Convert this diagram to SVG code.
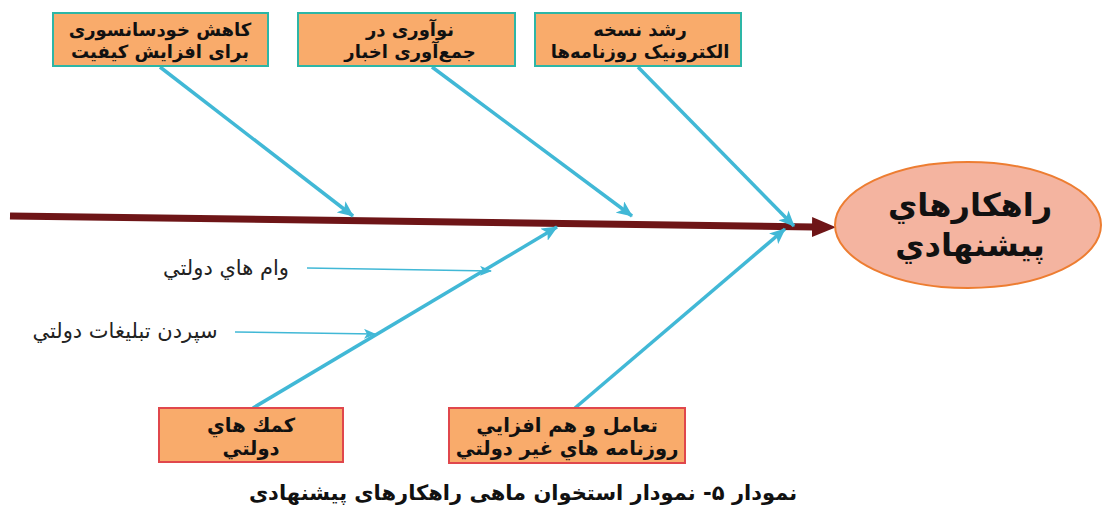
<svg xmlns="http://www.w3.org/2000/svg" width="1104" height="513" viewBox="0 0 1104 513">
<style>
.box{fill:#F9AB6B;stroke-width:2}
.top{stroke:#2DB6A6}
.bot{stroke:#E0474C}
.bt{font-family:"DejaVu Sans",sans-serif;font-weight:bold;font-size:18px;fill:#111;text-anchor:middle}
.bt2{font-family:"DejaVu Sans",sans-serif;font-weight:bold;font-size:19.5px;fill:#111;text-anchor:middle}
.lbl{font-family:"DejaVu Sans",sans-serif;font-size:21px;fill:#222;text-anchor:middle}
.bone{stroke:#41B8D6;stroke-width:3.5;fill:none}
.thin{stroke:#41B8D6;stroke-width:1.5;fill:none}
</style>
<defs>
<marker id="ah" markerUnits="userSpaceOnUse" markerWidth="16" markerHeight="14" viewBox="0 0 16 14" refX="15" refY="7" orient="auto">
<path d="M0,0 L16,7 L0,14 L4,7 Z" fill="#41B8D6"/>
</marker>
<marker id="ahs" markerUnits="userSpaceOnUse" markerWidth="12" markerHeight="10" viewBox="0 0 12 10" refX="11" refY="5" orient="auto">
<path d="M0,0 L12,5 L0,10 L3,5 Z" fill="#41B8D6"/>
</marker>
<marker id="big" markerUnits="userSpaceOnUse" markerWidth="24" markerHeight="24" viewBox="0 0 24 24" refX="2" refY="12" orient="auto">
<path d="M0,2 L24,12 L0,22 Z" fill="#6E1517"/>
</marker>
</defs>
<g id="connectors">
<line x1="10" y1="216" x2="814" y2="227" stroke="#6E1517" stroke-width="7" marker-end="url(#big)"/>
<line class="bone" x1="160" y1="67" x2="353" y2="216" marker-end="url(#ah)"/>
<line class="bone" x1="432" y1="67" x2="632" y2="216" marker-end="url(#ah)"/>
<line class="bone" x1="638" y1="67" x2="794" y2="226" marker-end="url(#ah)"/>
<line class="bone" x1="253" y1="408" x2="557" y2="227" marker-end="url(#ah)"/>
<line class="bone" x1="575" y1="408" x2="785" y2="229" marker-end="url(#ah)"/>
<line class="thin" x1="307" y1="268" x2="491" y2="271" marker-end="url(#ahs)"/>
<line class="thin" x1="235" y1="332" x2="375" y2="334" marker-end="url(#ahs)"/>
</g>
<g id="n1">
<rect class="box top" x="53" y="13" width="215" height="53"/>
<text class="bt" x="160" y="36">کاهش خودسانسوری</text>
<text class="bt" x="160" y="58">برای افزایش کیفیت</text>
</g>
<g id="n2">
<rect class="box top" x="298" y="13" width="217" height="53"/>
<text class="bt" x="410" y="36">نوآوری در</text>
<text class="bt" x="410" y="58">جمع‌آوری اخبار</text>
</g>
<g id="n3">
<rect class="box top" x="535" y="13" width="206" height="53"/>
<text class="bt" x="640" y="36">رشد نسخه</text>
<text class="bt" x="640" y="58">الکترونیک روزنامه‌ها</text>
</g>
<g id="n4">
<rect class="box bot" x="159" y="408" width="184" height="54"/>
<text class="bt2" x="251" y="432">کمك هاي</text>
<text class="bt2" x="251" y="455">دولتي</text>
</g>
<g id="n5">
<rect class="box bot" x="449" y="408" width="236" height="55"/>
<text class="bt2" x="567" y="432">تعامل و هم افزايي</text>
<text class="bt2" x="567" y="455">روزنامه هاي غير دولتي</text>
</g>
<g id="l1"><text class="lbl" x="226" y="275">وام هاي دولتي</text></g>
<g id="l2"><text class="lbl" x="125" y="338">سپردن تبليغات دولتي</text></g>
<g id="goal">
<ellipse cx="968" cy="225" rx="133" ry="63" fill="#F4B4A0" stroke="#ED7D31" stroke-width="2"/>
<text x="970" y="216" font-family="DejaVu Sans,sans-serif" font-weight="bold" font-size="32" text-anchor="middle" fill="#111">راهکارهاي</text>
<text x="970" y="256" font-family="DejaVu Sans,sans-serif" font-weight="bold" font-size="32" text-anchor="middle" fill="#111">پيشنهادي</text>
</g>
<text x="523" y="500" font-family="DejaVu Sans,sans-serif" font-weight="bold" font-size="21" text-anchor="middle" fill="#111">نمودار ۵- نمودار استخوان ماهی راهکارهای پیشنهادی</text>
</svg>
